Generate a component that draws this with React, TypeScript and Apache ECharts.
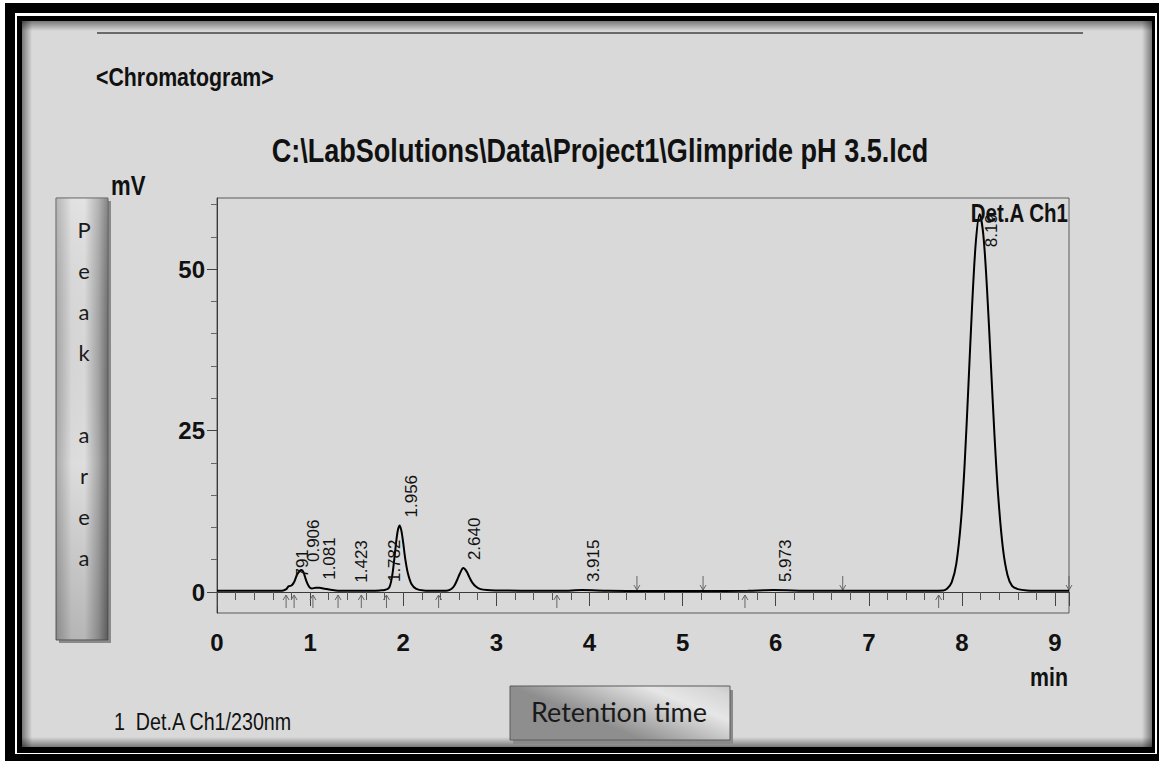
import React, { useEffect, useRef } from "react";
import * as echarts from "echarts";

// ---- chromatogram trace (retention time in min, signal in mV) ----
const traceTime = [
  0.0, 0.4, 0.7, 0.74, 0.77, 0.8, 0.83, 0.86, 0.89, 0.91, 0.93, 0.96, 0.99, 1.02, 1.06, 1.1, 1.16, 1.22, 1.3,
  1.45, 1.6, 1.75, 1.8, 1.85, 1.88, 1.9, 1.92, 1.94, 1.96, 1.98, 2.0, 2.02, 2.05, 2.09, 2.14, 2.22, 2.35,
  2.48, 2.52, 2.55, 2.58, 2.61, 2.645, 2.68, 2.71, 2.74, 2.78, 2.83, 2.9, 3.0, 3.3, 3.7, 3.92, 4.2, 4.6,
  5.2, 5.7, 5.97, 6.4, 7.0, 7.5, 7.8, 7.84, 7.89, 7.94, 7.99, 8.03, 8.07, 8.11, 8.15, 8.19, 8.23, 8.27,
  8.31, 8.35, 8.39, 8.44, 8.49, 8.54, 8.6, 8.7, 8.9, 9.15,
];
const traceMv = [
  0.2, 0.2, 0.2, 0.4, 0.9, 1.0, 1.6, 2.7, 3.3, 3.4, 3.0, 1.7, 0.8, 0.55, 0.65, 0.65, 0.5, 0.35, 0.2,
  0.2, 0.2, 0.25, 0.3, 0.7, 2.4, 4.6, 7.2, 9.4, 10.3, 9.5, 7.6, 5.3, 2.9, 1.2, 0.5, 0.25, 0.2,
  0.25, 0.5, 1.0, 1.9, 2.9, 3.7, 3.2, 2.3, 1.5, 0.85, 0.45, 0.3, 0.25, 0.2, 0.2, 0.3, 0.2, 0.15,
  0.15, 0.2, 0.3, 0.2, 0.2, 0.2, 0.25, 0.5, 1.5, 4.4, 11, 20, 32, 44.5, 54.3, 58.5, 55.3, 46.8,
  35.6, 24.2, 14.8, 6.8, 2.6, 0.9, 0.45, 0.25, 0.2, 0.2,
];

// ---- peak retention-time labels ----
const peakTimes = [0.791, 0.906, 1.081, 1.423, 1.782, 1.956, 2.64, 3.915, 5.973, 8.19];
const peakHeights = [1.0, 3.4, 0.65, 0.2, 0.3, 10.3, 3.7, 0.3, 0.3, 58.5];
const peakLabels = ["791", "0.906", "1.081", "1.423", "1.782", "1.956", "2.640", "3.915", "5.973", "8.19"];

// ---- integration markers ----
const upArrowTimes = [0.742, 0.828, 1.03, 1.3, 1.55, 1.82, 2.38, 3.65, 5.67, 7.75];
const downArrowTimes = [4.51, 5.22, 6.72, 9.15];

// ---- axes ----
const xTicks = [0, 1, 2, 3, 4, 5, 6, 7, 8, 9];
const yMajorTicks = [0, 25, 50];
const yMinorTicks = [5, 10, 15, 20, 30, 35, 40, 45, 55, 60];

const ARIAL = "'Liberation Sans',Arial,sans-serif";
const CAL = "Lato,'Open Sans',sans-serif";

export default function App() {
  const ref = useRef<HTMLDivElement>(null);
  useEffect(() => {
    const chart = echarts.init(ref.current!, null, { renderer: "svg" });
    const grad = (x2: number, y2: number, stops: [number, string][]) => ({
      type: "linear",
      x: 0,
      y: 0,
      x2,
      y2,
      colorStops: stops.map(([offset, color]) => ({ offset, color })),
    });
    const narrowText = (x: number, y: number, text: string, font: string, align: string, sx = 0.82) => ({
      type: "text",
      z: 10,
      x,
      y,
      scaleX: sx,
      style: { text, font, fill: "#111", align, verticalAlign: "middle" },
    });

    const option: any = {
      animation: false,
      backgroundColor: "#ffffff",
      grid: {
        left: 217,
        top: 198,
        width: 852,
        height: 415,
        show: true,
        borderColor: "#5a5a5a",
        borderWidth: 1,
        backgroundColor: "transparent",
      },
      xAxis: {
        type: "value",
        min: 0,
        max: 9.15,
        interval: 1,
        axisLine: { show: true, lineStyle: { color: "#3a3a3a", width: 1 } },
        axisTick: { show: true, length: 14, lineStyle: { color: "#444" } },
        minorTick: { show: true, splitNumber: 5, length: 8, lineStyle: { color: "#555" } },
        axisLabel: {
          margin: 17,
          fontSize: 24,
          fontWeight: "bold",
          fontFamily: ARIAL,
          color: "#111",
          formatter: (v: number) => (xTicks.includes(v) ? String(v) : ""),
        },
        splitLine: { show: false },
      },
      yAxis: [
        {
          type: "value",
          min: -3.25,
          max: 61,
          axisLine: { show: true, lineStyle: { color: "#3a3a3a", width: 1 } },
          axisTick: { show: true, customValues: yMajorTicks, length: 10, lineStyle: { color: "#444" } },
          axisLabel: {
            customValues: yMajorTicks,
            margin: 12,
            fontSize: 24,
            fontWeight: "bold",
            fontFamily: ARIAL,
            color: "#111",
          },
          splitLine: { show: false },
        },
        {
          type: "value",
          min: -3.25,
          max: 61,
          position: "left",
          axisLine: { show: false },
          axisTick: { show: true, customValues: yMinorTicks, length: 6, lineStyle: { color: "#666" } },
          axisLabel: { show: false },
          splitLine: { show: false },
        },
      ],
      series: [
        {
          type: "line",
          data: traceTime.map((t, i) => [t, traceMv[i]]),
          showSymbol: false,
          smooth: 0.3,
          lineStyle: { color: "#000", width: 2 },
          silent: true,
          z: 5,
        },
        {
          type: "custom",
          data: peakTimes.map((t, i) => [t, peakHeights[i]]),
          silent: true,
          z: 6,
          renderItem: (params: any, api: any) => {
            const [x, y] = api.coord([api.value(0), api.value(1)]);
            const last = params.dataIndex === peakTimes.length - 1;
            return {
              type: "text",
              x: x + 12,
              y: last ? y + 33 : y - 8,
              rotation: Math.PI / 2,
              style: {
                text: peakLabels[params.dataIndex],
                fill: "#111",
                font: `17px ${ARIAL}`,
                align: "left",
                verticalAlign: "middle",
              },
            };
          },
        },
        {
          type: "custom",
          data: upArrowTimes.map((t) => [t, 0]),
          silent: true,
          z: 4,
          renderItem: (params: any, api: any) => {
            const [x, y] = api.coord([api.value(0), 0]);
            return {
              type: "group",
              children: [
                { type: "line", shape: { x1: x, y1: y + 3, x2: x, y2: y + 16 }, style: { stroke: "#666", lineWidth: 1 } },
                {
                  type: "polyline",
                  shape: { points: [[x - 3, y + 8], [x, y + 3], [x + 3, y + 8]] },
                  style: { stroke: "#666", fill: "none", lineWidth: 1 },
                },
              ],
            };
          },
        },
        {
          type: "custom",
          data: downArrowTimes.map((t) => [t, 0]),
          silent: true,
          z: 4,
          renderItem: (params: any, api: any) => {
            const [x, y] = api.coord([api.value(0), 0]);
            return {
              type: "group",
              children: [
                { type: "line", shape: { x1: x, y1: y - 16, x2: x, y2: y - 2 }, style: { stroke: "#666", lineWidth: 1 } },
                {
                  type: "polyline",
                  shape: { points: [[x - 3, y - 7], [x, y - 2], [x + 3, y - 7]] },
                  style: { stroke: "#666", fill: "none", lineWidth: 1 },
                },
              ],
            };
          },
        },
      ],
      graphic: [
        // frames
        { type: "rect", z: -20, shape: { x: 5, y: 3, width: 1154, height: 758 }, style: { fill: "#000" } },
        { type: "rect", z: -19, shape: { x: 15, y: 13, width: 1142, height: 741 }, style: { fill: "#fff" } },
        { type: "rect", z: -18, shape: { x: 17, y: 16, width: 1138, height: 737 }, style: { fill: "#000" } },
        { type: "rect", z: -17, shape: { x: 22, y: 21, width: 1130, height: 726 }, style: { fill: "#d9d9d9" } },
        { type: "rect", z: -16, shape: { x: 22, y: 21, width: 1130, height: 10 }, style: { fill: grad(0, 1, [[0, "rgba(0,0,0,0.45)"], [1, "rgba(0,0,0,0)"]]) } },
        { type: "rect", z: -16, shape: { x: 22, y: 737, width: 1130, height: 10 }, style: { fill: grad(0, 1, [[0, "rgba(0,0,0,0)"], [1, "rgba(0,0,0,0.45)"]]) } },
        { type: "rect", z: -16, shape: { x: 22, y: 21, width: 10, height: 726 }, style: { fill: grad(1, 0, [[0, "rgba(0,0,0,0.45)"], [1, "rgba(0,0,0,0)"]]) } },
        { type: "rect", z: -16, shape: { x: 1142, y: 21, width: 10, height: 726 }, style: { fill: grad(1, 0, [[0, "rgba(0,0,0,0)"], [1, "rgba(0,0,0,0.45)"]]) } },
        // top rule
        { type: "line", z: 10, shape: { x1: 97, y1: 33, x2: 1083, y2: 33 }, style: { stroke: "#444", lineWidth: 1.5 } },
        // texts
        narrowText(96, 77, "<Chromatogram>", `bold 26px ${ARIAL}`, "left"),
        narrowText(600, 151, "C:\\LabSolutions\\Data\\Project1\\Glimpride pH 3.5.lcd", `bold 33px ${ARIAL}`, "center"),
        narrowText(111, 186, "mV", `bold 27px ${ARIAL}`, "left"),
        narrowText(1068, 213, "Det.A Ch1", `bold 25px ${ARIAL}`, "right"),
        narrowText(1068, 677, "min", `bold 26px ${ARIAL}`, "right"),
        narrowText(114, 722, "1  Det.A Ch1/230nm", `24px ${ARIAL}`, "left"),
        // Peak area box
        { type: "rect", z: 8, shape: { x: 59, y: 201, width: 52, height: 442 }, style: { fill: "#8a8a8a" } },
        {
          type: "rect",
          z: 9,
          shape: { x: 56, y: 198, width: 52, height: 442 },
          style: {
            fill: grad(1, 0, [[0, "#a8a8a8"], [0.3, "#dcdcdc"], [0.55, "#dedede"], [0.82, "#a6a6a6"], [1, "#6e6e6e"]]),
            stroke: "#5a5a5a",
            lineWidth: 1,
          },
        },
        {
          type: "rect",
          z: 9,
          shape: { x: 56, y: 198, width: 52, height: 442 },
          style: { fill: grad(0, 1, [[0, "rgba(255,255,255,0.15)"], [0.6, "rgba(0,0,0,0)"], [1, "rgba(0,0,0,0.18)"]]) },
        },
        { type: "text", z: 10, x: 84, y: 209, style: { text: "P\ne\na\nk\n\na\nr\ne\na", font: `22px ${CAL}`, lineHeight: 41, fill: "#1a1a1a", align: "center", verticalAlign: "top" } },
        // Retention time box
        { type: "rect", z: 8, shape: { x: 513, y: 690, width: 220, height: 54 }, style: { fill: "#8a8a8a" } },
        {
          type: "rect",
          z: 9,
          shape: { x: 510, y: 686, width: 220, height: 54 },
          style: {
            fill: grad(1, -0.6, [[0, "#8e8e8e"], [0.45, "#e6e6e6"], [0.65, "#d6d6d6"], [1, "#9a9a9a"]]),
            stroke: "#5a5a5a",
            lineWidth: 1,
          },
        },
        { type: "text", z: 10, x: 619, y: 711, style: { text: "Retention time", font: `27px ${CAL}`, fill: "#1a1a1a", align: "center", verticalAlign: "middle" } },
      ],
    };
    chart.setOption(option);
    return () => chart.dispose();
  }, []);
  return <div ref={ref} style={{ position: "fixed", left: 0, top: 0, width: 1159, height: 761 }} />;
}
